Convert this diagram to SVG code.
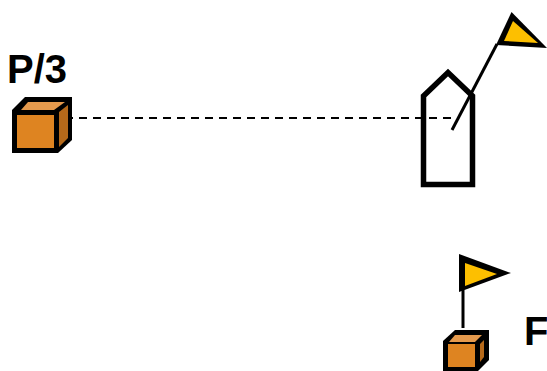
<svg xmlns="http://www.w3.org/2000/svg" width="547" height="371" viewBox="0 0 547 371">
<style>
.t{font-family:"Liberation Sans",Arial,sans-serif;font-weight:700;font-size:40px;fill:#000}
.l{fill:none;stroke:#000}
.f{fill:#de8421}.u{fill:#e59a4d}.s{fill:#b5691a}.y{fill:#fdbf00}
</style>
<rect width="547" height="371" fill="#fff"/>
<g id="connectors">
<path class="l" d="M65 118H452" stroke-width="2" stroke-dasharray="8 6"/>
</g>
<g id="node-p3">
<path d="M12 110L25 97H72V140L58 153H12Z"/>
<path class="f" d="M17 115H54V148H17Z"/>
<path class="u" d="M21 110H54L65 102H28Z"/>
<path class="s" d="M59 112L68 105V138L59 147Z"/>
<text class="t" x="7" y="83">P/3</text>
</g>
<g id="node-ship">
<path style="stroke:#000;stroke-width:5.500px" fill="none" d="M423.500 96L448 72.500L472.500 96V184.500H423.500Z"/>
<path class="l" stroke-width="3" d="M452 130L497 44"/>
<path d="M511.500 12L547 48L496 45Z"/>
<path class="y" d="M513 21L538 43L504 41Z"/>
</g>
<g id="node-f">
<path class="l" stroke-width="3" d="M463 290V328"/>
<path d="M459 254L511 273L459 292Z"/>
<path class="y" d="M465 263L497 274L465 286Z"/>
<path d="M443 341L455 330H489V360L478 371H443Z"/>
<path class="f" d="M448 344H475V367H448Z"/>
<path class="u" d="M449 342H475L482 335H455Z"/>
<path class="s" d="M480 344L484 340V357L480 362Z"/>
<text class="t" x="524" y="345">F</text>
</g>
</svg>
